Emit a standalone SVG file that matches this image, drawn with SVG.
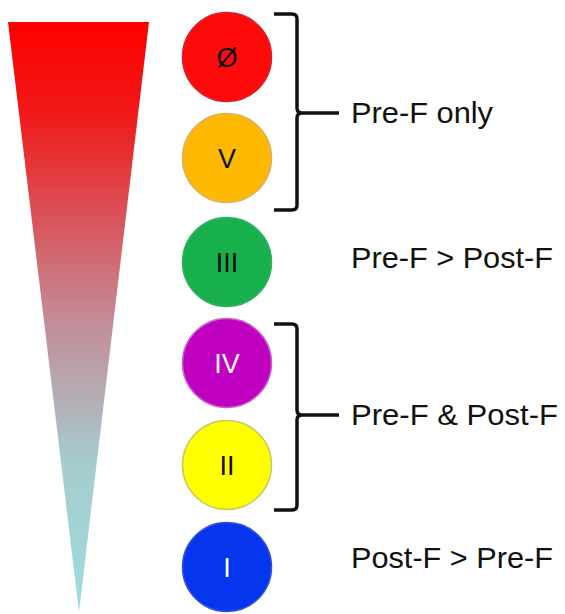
<svg xmlns="http://www.w3.org/2000/svg" width="565" height="614" viewBox="0 0 565 614">
  <style>
    .lbl { font-family: "Liberation Sans", Arial, sans-serif; font-size: 30px; fill: #111; }
    .num { font-family: "Liberation Sans", Arial, sans-serif; font-size: 27px; text-anchor: middle; }
    .circ { stroke-width: 1.5; }
    .br { fill: none; stroke: #111; stroke-width: 3.5; stroke-linejoin: round; }
  </style>
  <defs>
    <linearGradient id="tri" x1="0" y1="22" x2="0" y2="612" gradientUnits="userSpaceOnUse">
      <stop offset="0" stop-color="#ff0000"/>
      <stop offset="0.15" stop-color="#f01818"/>
      <stop offset="0.5" stop-color="#c48a96"/>
      <stop offset="0.75" stop-color="#a6cccf"/>
      <stop offset="1" stop-color="#9edcdc"/>
    </linearGradient>
  </defs>
  <rect width="565" height="614" fill="#ffffff"/>
  <g id="triangle">
    <polygon points="8,22 149,22 79,612" fill="url(#tri)"/>
  </g>
  <g id="node-null">
    <circle class="circ" cx="227" cy="57" r="44.5" fill="#ff0a0a" stroke="#d8202a"/>
    <text class="num" x="227" y="67" fill="#111">Ø</text>
  </g>
  <g id="node-V">
    <circle class="circ" cx="227" cy="158" r="44.5" fill="#ffb900" stroke="#d8b060"/>
    <text class="num" x="227" y="168" fill="#111">V</text>
  </g>
  <g id="node-III">
    <circle class="circ" cx="227" cy="262" r="44.5" fill="#17b04c" stroke="#30b060"/>
    <text class="num" x="227" y="272" fill="#111">III</text>
  </g>
  <g id="node-IV">
    <circle class="circ" cx="227" cy="363" r="44.5" fill="#c000c0" stroke="#c860c8"/>
    <text class="num" x="227" y="373" fill="#ffffff">IV</text>
  </g>
  <g id="node-II">
    <circle class="circ" cx="227" cy="465" r="44.5" fill="#ffff00" stroke="#c8c860"/>
    <text class="num" x="227" y="475" fill="#111">II</text>
  </g>
  <g id="node-I">
    <circle class="circ" cx="227" cy="567" r="44.5" fill="#0536ee" stroke="#3050e0"/>
    <text class="num" x="227" y="577" fill="#ffffff">I</text>
  </g>
  <g id="connectors">
    <path class="br" d="M274,14 L292,14 Q297,14 297,19 L297,108 Q297,113 302,113 L339,113 M302,113 Q297,113 297,118 L297,205 Q297,210 292,210 L274,210"/>
    <path class="br" d="M274,324 L292,324 Q297,324 297,329 L297,410 Q297,415 302,415 L339,415 M302,415 Q297,415 297,420 L297,505 Q297,510 292,510 L274,510"/>
  </g>
  <g id="labels">
    <text class="lbl" x="351" y="123" textLength="142" lengthAdjust="spacingAndGlyphs">Pre-F only</text>
    <text class="lbl" x="351" y="268" textLength="202" lengthAdjust="spacingAndGlyphs">Pre-F &gt; Post-F</text>
    <text class="lbl" x="351" y="425" textLength="207" lengthAdjust="spacingAndGlyphs">Pre-F &amp; Post-F</text>
    <text class="lbl" x="351" y="568" textLength="202" lengthAdjust="spacingAndGlyphs">Post-F &gt; Pre-F</text>
  </g>
</svg>
